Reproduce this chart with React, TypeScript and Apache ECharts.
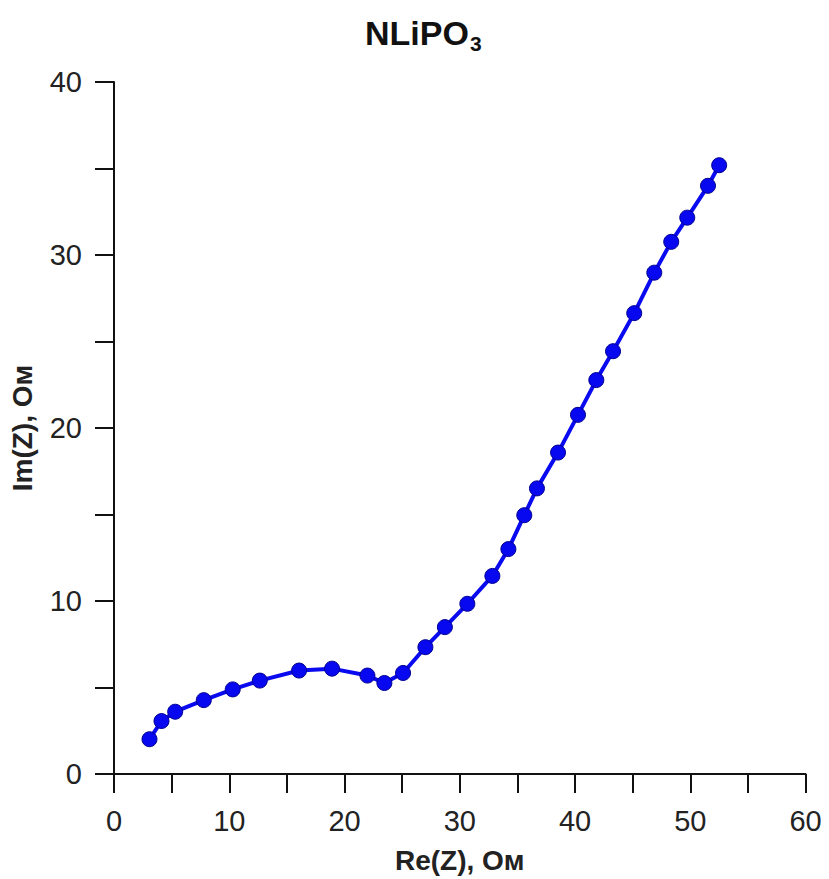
import React, { useEffect, useRef } from "react";
import * as echarts from "echarts";

const reZ = [3.08, 4.12, 5.31, 7.79, 10.3, 12.65, 16.06, 18.92, 21.99, 23.46, 25.08, 27.02, 28.71, 30.66, 32.83, 34.22, 35.6, 36.7, 38.53, 40.26, 41.85, 43.3, 45.14, 46.88, 48.35, 49.74, 51.54, 52.51];
const imZ = [2.01, 3.06, 3.6, 4.27, 4.89, 5.4, 5.98, 6.09, 5.69, 5.26, 5.84, 7.33, 8.49, 9.84, 11.45, 13.0, 14.96, 16.51, 18.58, 20.76, 22.77, 24.44, 26.64, 28.98, 30.76, 32.16, 34.0, 35.19];

const titleMain = "NLiPO";
const titleSub = "3";
const xName = "Re(Z), Ом";
const yName = "Im(Z), Ом";

export default function App() {
  const ref = useRef<HTMLDivElement>(null);
  useEffect(() => {
    document.body.style.margin = "0";
    const chart = echarts.init(ref.current!, null, { renderer: "svg" });
    const font = "Liberation Sans, Arial, sans-serif";
    const labelFmt = (v: number) => (v % 10 === 0 ? String(v) : "");
    chart.setOption({
      animation: false,
      backgroundColor: "#ffffff",
      title: {
        text: `{a|${titleMain}}{b|${titleSub}}`,
        left: 360,
        top: 6,
        textStyle: {
          rich: {
            a: { fontFamily: font, fontWeight: "bold", fontSize: 34, color: "#111" },
            b: { fontFamily: font, fontWeight: "bold", fontSize: 21, color: "#111", padding: [22, 0, 0, 1] },
          },
        },
      },
      grid: { left: 114, right: 23.5, top: 82, bottom: 101 },
      xAxis: {
        type: "value",
        min: 0,
        max: 60,
        interval: 5,
        name: xName,
        nameLocation: "middle",
        nameGap: 72,
        nameTextStyle: { fontFamily: font, fontWeight: "bold", fontSize: 28, color: "#222" },
        axisLine: { show: true, onZero: false, lineStyle: { color: "#111", width: 2 } },
        axisTick: { show: true, length: 19, lineStyle: { color: "#111", width: 2 } },
        axisLabel: { formatter: labelFmt, fontFamily: font, fontSize: 29, color: "#222", margin: 32 },
        splitLine: { show: false },
      },
      yAxis: {
        type: "value",
        min: 0,
        max: 40,
        interval: 5,
        name: yName,
        nameLocation: "middle",
        nameGap: 78,
        nameRotate: 90,
        nameTextStyle: { fontFamily: font, fontWeight: "bold", fontSize: 28, color: "#222" },
        axisLine: { show: true, onZero: false, lineStyle: { color: "#111", width: 2 } },
        axisTick: { show: true, length: 19, lineStyle: { color: "#111", width: 2 } },
        axisLabel: { formatter: labelFmt, fontFamily: font, fontSize: 29, color: "#222", margin: 32 },
        splitLine: { show: false },
      },
      series: [
        {
          type: "line",
          data: reZ.map((x, i) => [x, imZ[i]]),
          symbol: "circle",
          symbolSize: 15,
          lineStyle: { color: "#0a0af0", width: 4 },
          itemStyle: { color: "#0808f0", borderColor: "#000090", borderWidth: 1 },
        },
      ],
    });
    return () => chart.dispose();
  }, []);
  return <div ref={ref} style={{ width: 829, height: 879 }} />;
}
